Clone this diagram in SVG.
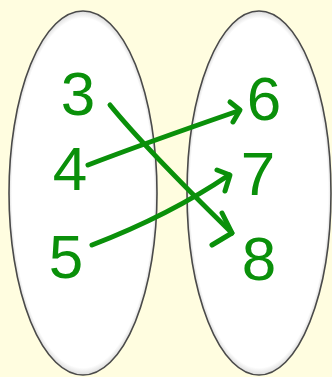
<svg xmlns="http://www.w3.org/2000/svg" width="332" height="377" viewBox="0 0 332 377">
<defs>
<radialGradient id="fillg" cx="0.5" cy="0.5" r="0.5">
<stop offset="0" stop-color="#ffffff"/>
<stop offset="0.96" stop-color="#ffffff"/>
<stop offset="1" stop-color="#dcdcdc"/>
</radialGradient>
<style>
.set{fill:url(#fillg);stroke:#4a4a4a;stroke-width:1.6}
.num{font-family:"Liberation Sans",Arial,sans-serif;font-size:62px;fill:#0a900a;text-anchor:middle}
.arr{fill:none;stroke:#0a900a;stroke-width:5;stroke-linecap:round;stroke-linejoin:round}
</style>
</defs>
<rect width="332" height="377" fill="#fffde0"/>
<g id="setA"><ellipse class="set" cx="83" cy="193" rx="74" ry="182"/></g>
<g id="setB"><ellipse class="set" cx="259" cy="193" rx="72" ry="182"/></g>
<g id="n3"><text class="num" x="78" y="115">3</text></g>
<g id="n4"><text class="num" x="70" y="190">4</text></g>
<g id="n5"><text class="num" x="66" y="278">5</text></g>
<g id="n6"><text class="num" x="264" y="120">6</text></g>
<g id="n7"><text class="num" x="258" y="195">7</text></g>
<g id="n8"><text class="num" x="259" y="280">8</text></g>
<g id="connectors">
<path class="arr" d="M110,105 Q145,148 232,233"/>
<path class="arr" d="M222,213 L232,233 L212,245"/>
<path class="arr" d="M88,165 Q140,145 238,111"/>
<path class="arr" d="M230,102 L240,110 L233,122"/>
<path class="arr" d="M92,245 Q170,215 229,175"/>
<path class="arr" d="M217,170 L230,175 L225,191"/>
</g>
</svg>
